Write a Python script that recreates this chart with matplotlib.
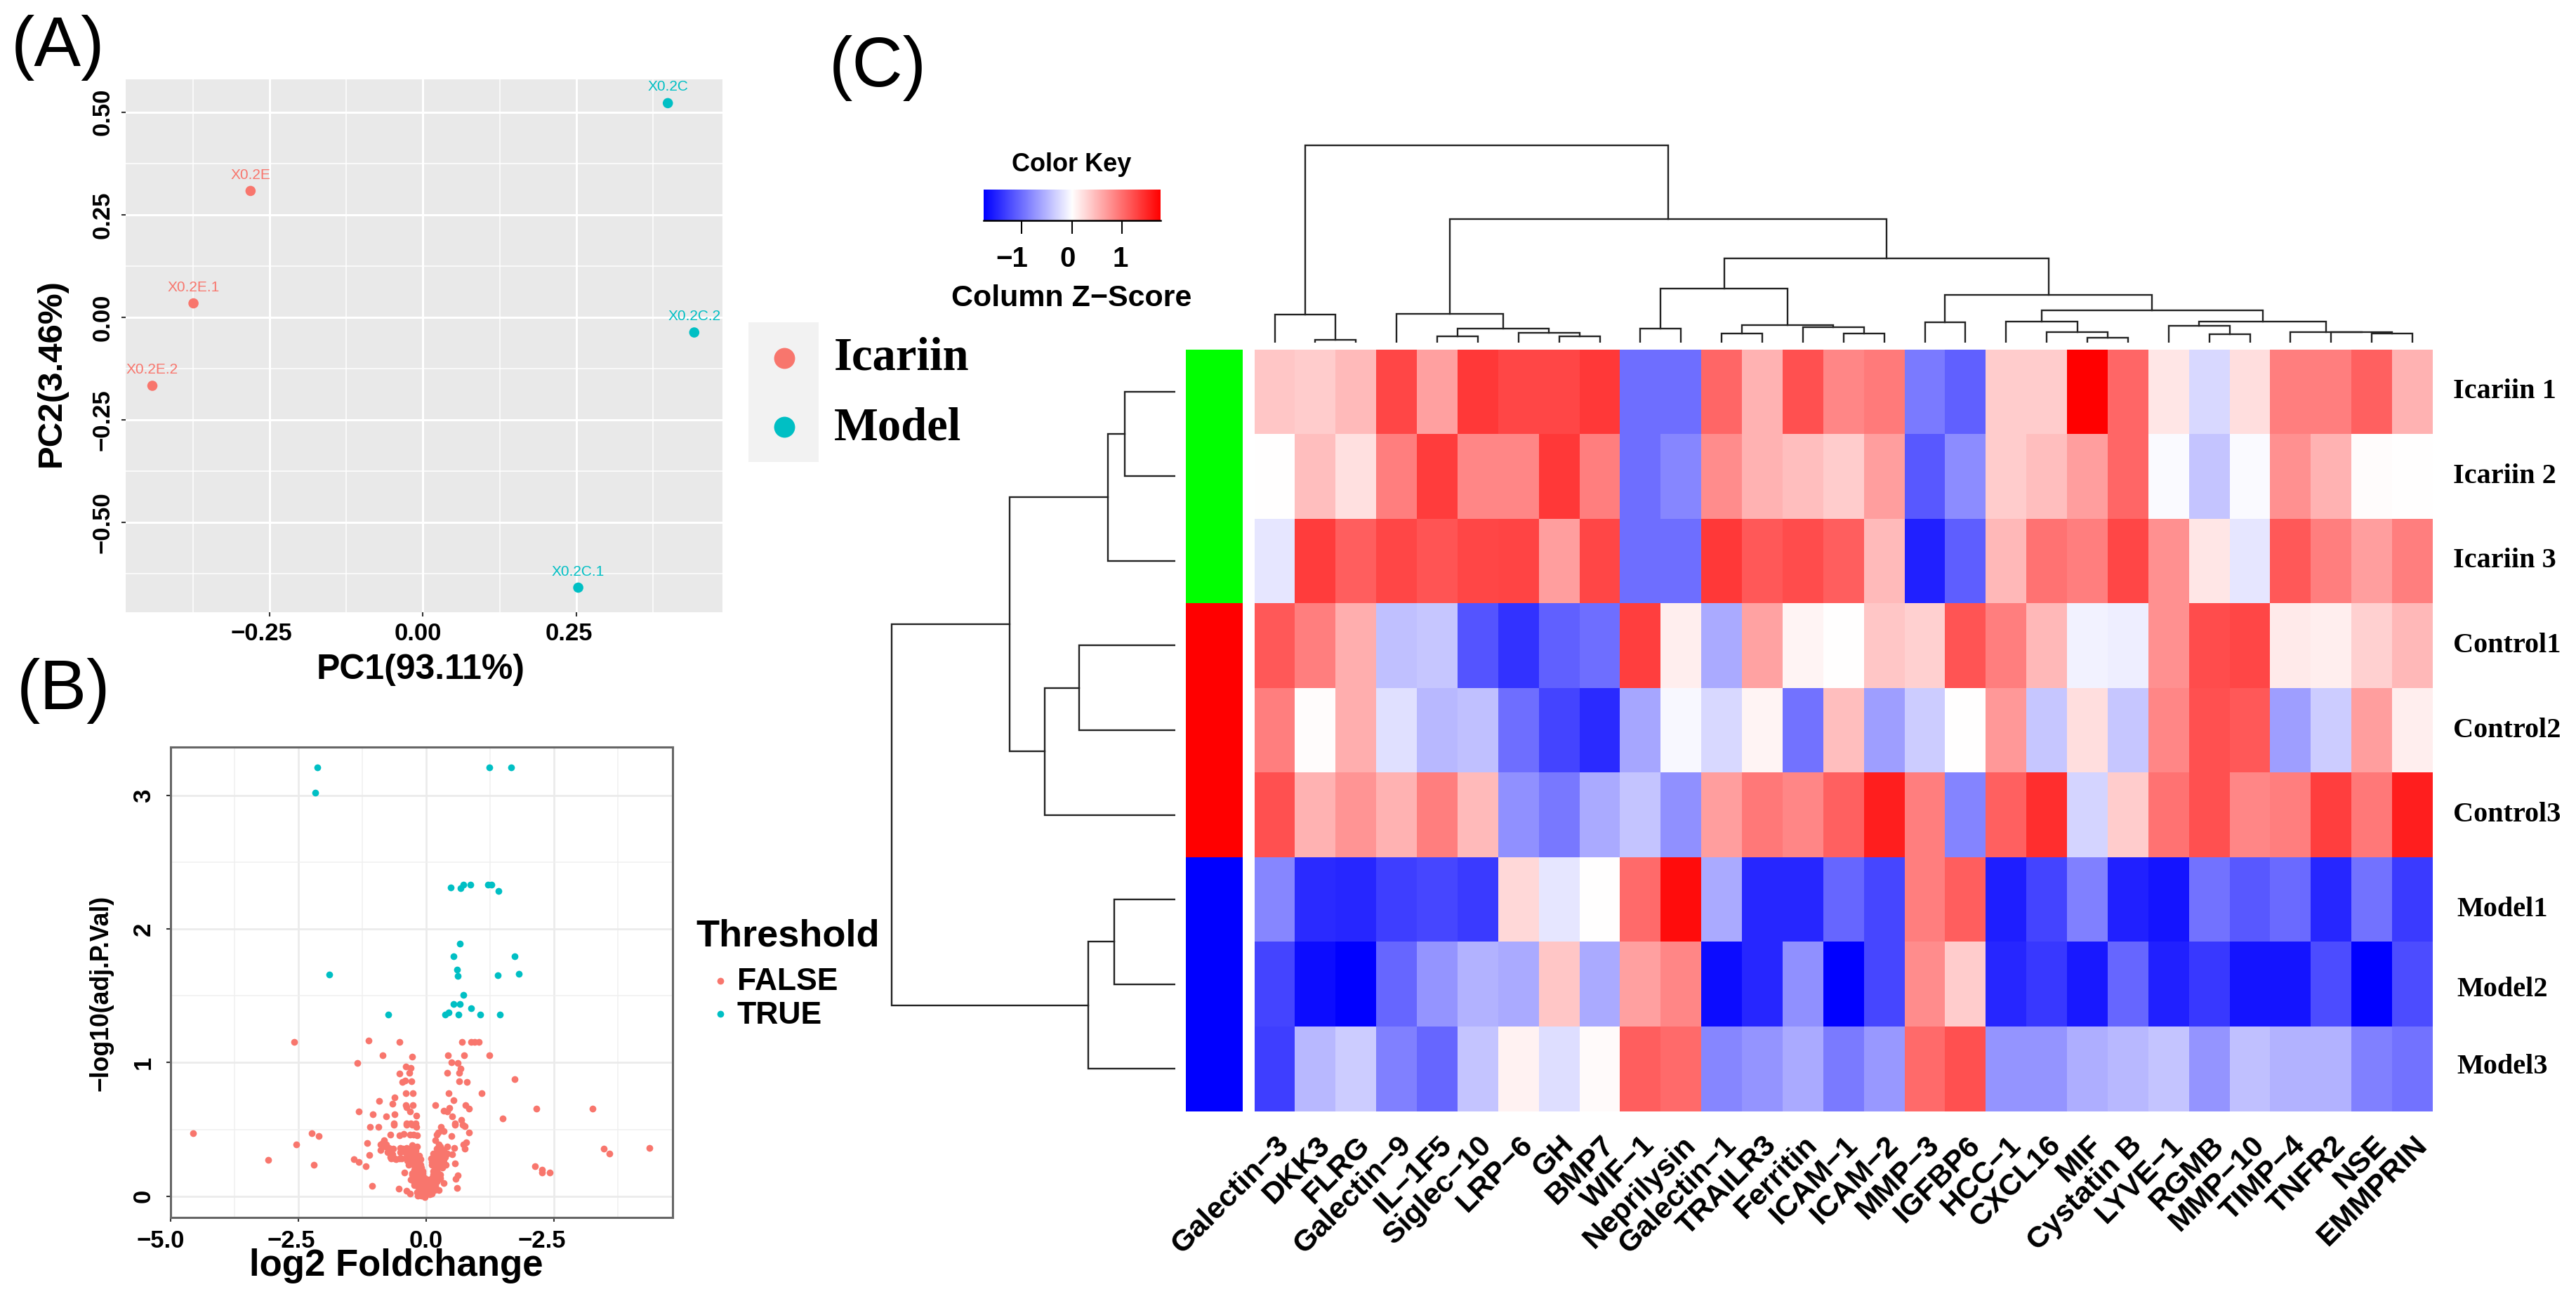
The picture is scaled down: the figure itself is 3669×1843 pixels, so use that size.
"""Three panel figure: PCA scatter, volcano plot and clustered heatmap."""
import matplotlib
matplotlib.use("Agg")
import matplotlib.pyplot as plt
from matplotlib.colors import LinearSegmentedColormap, ListedColormap
from matplotlib.patches import Rectangle
from matplotlib.transforms import ScaledTranslation
import numpy as np

WIDTH, HEIGHT, DPI = 3669, 1843, 100
SANS = "Liberation Sans"
SERIF = "Liberation Serif"
RED = "#F8766D"
TEAL = "#00BFC4"

# panel A
pca_names = ["X0.2E", "X0.2E.1", "X0.2E.2", "X0.2C", "X0.2C.2", "X0.2C.1"]
pca_pc1 = [-0.281, -0.374, -0.441, 0.399, 0.442, 0.253]
pca_pc2 = [0.308, 0.034, -0.167, 0.522, -0.037, -0.659]
pca_colors = [RED, RED, RED, TEAL, TEAL, TEAL]

# panel B
true_x = [-2.136, -2.177, 1.237, 1.659, 0.477, 0.674, 0.724, 0.862, 1.214, 1.274, 1.412, 0.66, 0.532, 1.732, 0.605,
          0.614, 1.407, 1.81, -1.893, 0.733, 0.532, 0.66, 0.875, -0.738, 0.376, 0.44, 0.632, 1.054, 1.444]
true_y = [3.212, 3.02, 3.212, 3.212, 2.31, 2.307, 2.333, 2.333, 2.333, 2.333, 2.284, 1.893, 1.798, 1.798, 1.696,
          1.649, 1.653, 1.663, 1.658, 1.509, 1.439, 1.439, 1.407, 1.36, 1.36, 1.377, 1.36, 1.36, 1.36]
false_x = [-2.587, -1.124, -0.516, 0.70, 0.873, 0.946, 1.028, -0.855, -0.27, 0.43, 0.745, 1.234, -1.348, 0.494, 0.617,
           -0.393, -0.302, 0.676, -0.334, -0.526, 0.411, 0.64, -0.416, -0.466, -0.293, 0.649, 0.8, 1.723, -0.393,
           -0.256, 0.439, 1.083, -0.622, -0.923, 0.53, -0.663, -0.393, -0.379, -0.256, 0.183, 0.763, 0.841, 0.452,
           0.343, 0.411, -0.311, -1.325, -1.051, -0.786, -0.622, -0.192, 0.503, 0.686, 1.495, -0.63, -0.388, -0.297,
           -0.206, 0.562, 0.708, -1.097, -0.928, -0.631, -0.388, -0.274, -0.192, 0.562, 0.754, 0.832, -0.708, -0.516,
           -0.434, -0.32, -0.251, -0.183, 0.283, 0.229, 0.343, 0.489, 0.206, 0.183, -1.156, -0.823, -0.891, -0.777,
           -0.891, -0.731, -0.64, -0.503, -0.388, -0.274, -0.183, 0.777, 0.731, 0.754, 0.274, 0.411, 0.548, -1.12,
           -1.417, -1.316, -1.179, 0.512, 0.558, 0.617, 0.58, -1.06, -0.53, -0.388, -0.311, 0.347, 0.603, 0.242,
           -0.425, -0.754, -0.708, -0.617, -0.526, -0.503, -0.411, -0.388, -0.297, -0.206, -0.137, -0.343, -0.229,
           -0.137, -0.091, -0.183, -0.137, -0.251, -0.183, -0.091, -0.069, 0.137, 0.206, 0.274, 0.343, 0.114, 0.229,
           0.343, 0.16, 0.297, 0.388, 0.137, 0.229, 0.16, 0.091, 0.274, -0.229, -0.114, 0.0, 0.114, 0.206, -0.137,
           -0.023, 0.091, 0.183, -0.16, -0.023, 0.069, -0.069, 0.023, -0.229, 0.023, -0.274, -4.558, -2.548, -2.24,
           -2.096, -3.087, -2.202, 2.154, 3.26, 2.125, 2.26, 2.26, 2.423, 3.471, 3.587, 4.365]
false_y = [1.155, 1.163, 1.153, 1.154, 1.154, 1.154, 1.154, 1.056, 1.042, 1.056, 1.056, 1.056, 0.996, 1.005, 0.996,
           0.972, 0.96, 0.956, 0.926, 0.916, 0.923, 0.926, 0.868, 0.853, 0.858, 0.858, 0.853, 0.877, 0.772,
           0.772, 0.772, 0.772, 0.742, 0.714, 0.716, 0.693, 0.684, 0.667, 0.684, 0.684, 0.684, 0.654, 0.658,
           0.64, 0.635, 0.632, 0.632, 0.614, 0.596, 0.614, 0.605, 0.596, 0.57, 0.582, 0.544, 0.544, 0.544,
           0.544, 0.544, 0.535, 0.516, 0.516, 0.533, 0.533, 0.533, 0.521, 0.533, 0.526, 0.474, 0.46, 0.456,
           0.468, 0.46, 0.46, 0.456, 0.516, 0.474, 0.486, 0.451, 0.46, 0.416, 0.395, 0.416, 0.389, 0.389,
           0.346, 0.363, 0.354, 0.363, 0.363, 0.381, 0.372, 0.404, 0.386, 0.358, 0.372, 0.372, 0.363, 0.31,
           0.279, 0.253, 0.226, 0.314, 0.246, 0.153, 0.13, 0.079, 0.053, 0.039, 0.021, 0.098, 0.06, 0.044,
           0.179, 0.328, 0.293, 0.284, 0.284, 0.328, 0.328, 0.293, 0.31, 0.31, 0.302, 0.232, 0.249,
           0.249, 0.214, 0.196, 0.17, 0.135, 0.109, 0.126, 0.17, 0.284, 0.319, 0.337, 0.319, 0.258, 0.275,
           0.275, 0.223, 0.232, 0.232, 0.188, 0.17, 0.144, 0.126, 0.135, 0.082, 0.082, 0.091, 0.091, 0.109, 0.039,
           0.039, 0.047, 0.074, 0.004, -0.01, 0.012, 0.021, 0.065, 0.126, 0.126, 0.17, 0.469, 0.385, 0.469,
           0.448, 0.273, 0.235, 0.655, 0.655, 0.224, 0.196, 0.175, 0.179, 0.357, 0.319, 0.361]
# the crowded V near the origin, overlapping points estimated
crowd_x = [-0.846, -0.8, -0.708, -0.663, -0.686, -0.594, -0.48, -0.457, -0.366, -0.32, -0.251, -0.183, -0.114, -0.274,
           -0.206, -0.366, -0.297, -0.251, -0.183, -0.114, -0.229, -0.137, -0.069, -0.274, -0.206, -0.137, -0.069,
           -0.023, -0.297, -0.16, -0.229, -0.137, -0.069, -0.183, -0.069, -0.023, 0.069, 0.137, 0.229, 0.114, 0.183,
           0.046, -0.091, 0.0, -0.183, 0.114, 0.16, -0.023, 0.137, 0.206, 0.251, 0.16, 0.229, 0.297, 0.366, 0.091,
           0.114, 0.206, 0.274, 0.343, 0.229, 0.32, 0.183, 0.137, 0.206, 0.274, 0.114, 0.343, 0.411]
crowd_y = [0.398, 0.372, 0.337, 0.311, 0.284, 0.275, 0.284, 0.354, 0.346, 0.328, 0.284, 0.284, 0.275, 0.354,
           0.337, 0.267, 0.267, 0.232, 0.232, 0.232, 0.196, 0.205, 0.188, 0.161, 0.153, 0.144, 0.153,
           0.135, 0.126, 0.126, 0.1, 0.1, 0.1, 0.074, 0.065, 0.082, 0.065, 0.074, 0.126, 0.135, 0.126,
           0.03, 0.004, 0.012, 0.03, 0.021, 0.047, 0.056, 0.319, 0.354, 0.389, 0.284, 0.302, 0.302, 0.293, 0.284,
           0.232, 0.249, 0.258, 0.249, 0.214, 0.214, 0.196, 0.161, 0.153, 0.161, 0.109, 0.346, 0.319]

# panel C
proteins = ["Galectin−3", "DKK3", "FLRG", "Galectin−9", "IL−1F5", "Siglec−10", "LRP−6", "GH", "BMP7", "WIF−1",
            "Neprilysin", "Galectin−1", "TRAILR3", "Ferritin", "ICAM−1", "ICAM−2", "MMP−3", "IGFBP6", "HCC−1",
            "CXCL16", "MIF", "Cystatin B", "LYVE−1", "RGMB", "MMP−10", "TIMP−4", "TNFR2", "NSE", "EMMPRIN"]
samples = ["Icariin 1", "Icariin 2", "Icariin 3", "Control1", "Control2", "Control3", "Model1", "Model2", "Model3"]
sample_groups = [0, 0, 0, 1, 1, 1, 2, 2, 2]
group_colors = ["#00FF00", "#FF0000", "#0000FF"]
key_limit = 1.76

icariin1 = [.22, .2, .27, .72, .37, .78, .72, .72, .78, -.57, -.57, .6, .3, .68, .47, .52, -.52, -.62, .2, .2, 1.0, .6,
            .1, -.15, .13, .5, .5, .62, .3]
icariin2 = [0, .25, .12, .5, .76, .47, .47, .78, .5, -.57, -.47, .45, .3, .25, .2, .38, -.65, -.45, .2, .25, .38, .6,
            -.02, -.23, -.02, .43, .3, .01, 0]
icariin3 = [-.1, .76, .63, .72, .67, .72, .73, .38, .72, -.57, -.57, .78, .65, .7, .63, .27, -.87, -.63, .28, .55, .5,
            .72, .43, .1, -.1, .65, .5, .38, .5]
control1 = [.65, .5, .32, -.25, -.22, -.67, -.8, -.62, -.57, .75, .07, -.33, .36, .04, 0, .22, .18, .67, .5, .28, -.05,
            -.07, .43, .7, .72, .08, .07, .18, .28]
control2 = [.5, .01, .32, -.12, -.28, -.25, -.57, -.73, -.83, -.35, -.03, -.15, .04, -.55, .25, -.38, -.2, 0, .4, -.22,
            .13, -.22, .47, .68, .65, -.38, -.2, .38, .07]
control3 = [.68, .3, .42, .3, .5, .27, -.43, -.53, -.33, -.23, -.43, .38, .53, .47, .62, .88, .5, -.48, .62, .82, -.17,
            .2, .55, .68, .47, .5, .75, .53, .88]
model1 = [-.47, -.83, -.85, -.75, -.72, -.77, .15, -.1, 0, .58, .95, -.33, -.85, -.85, -.6, -.72, .5, .63, -.88, -.73,
          -.5, -.87, -.92, -.55, -.65, -.58, -.85, -.55, -.77]
model2 = [-.73, -.95, -1, -.6, -.42, -.3, -.33, .22, -.33, .37, .47, -.95, -.85, -.43, -1, -.72, .45, .2, -.85, -.78,
          -.9, -.6, -.87, -.78, -.92, -.92, -.7, -1, -.7]
model3 = [-.75, -.28, -.2, -.5, -.6, -.23, .05, -.13, .02, .63, .58, -.47, -.42, -.33, -.52, -.4, .58, .68, -.42, -.42,
          -.32, -.28, -.23, -.42, -.25, -.3, -.3, -.5, -.55]
z_scores = np.array([icariin1, icariin2, icariin3, control1, control2, control3, model1, model2, model3]) * key_limit

# dendrograms: (left, right, height), leaves are 1-based positions
col_tree = (
    (1, (2, 3, 4), 40),
    ((4, ((5, 6, 9), (7, (8, 9, 9), 14), 20), 41),
     (((10, 11, 20), ((12, 13, 13.5), (14, (15, 16, 13.5), 22), 25), 77),
      ((17, 18, 29),
       ((19, (20, (21, 22, 7), 15), 30),
        ((23, (24, 25, 12), 24), (26, (27, (28, 29, 13), 15), 15.5), 30), 46), 68), 120), 176),
    281)
row_tree = (
    (((1, 2, 72), 3, 96), ((4, 5, 137), 6, 186), 236.5),
    ((7, 8, 87), 9, 124),
    404)


def px_axes(fig, left, top, right, bottom):
    return fig.add_axes([left / WIDTH, 1 - bottom / HEIGHT, (right - left) / WIDTH, (bottom - top) / HEIGHT])


def shift_labels(fig, labels, offsets):
    for label, dx in zip(labels, offsets):
        label.set_transform(label.get_transform() + ScaledTranslation(dx / DPI, 0, fig.dpi_scale_trans))


def style_ticks(ax, pad_x, pad_y):
    ax.tick_params(axis="x", length=4, width=1.5, color="#333333", pad=pad_x)
    ax.tick_params(axis="y", length=4, width=1.5, color="#333333", pad=pad_y)
    for label in ax.get_xticklabels() + ax.get_yticklabels():
        label.set_fontfamily(SANS)
        label.set_fontweight("bold")
        label.set_fontsize(25)
    for label in ax.get_yticklabels():
        label.set_rotation(90)
        label.set_verticalalignment("center")


def draw_tree(ax, node, horizontal):
    """Draw a merge tree and return the position and height of its top."""
    if not isinstance(node, tuple):
        return node - 0.5, 0
    pos_a, h_a = draw_tree(ax, node[0], horizontal)
    pos_b, h_b = draw_tree(ax, node[1], horizontal)
    h = node[2]
    pos = [pos_a, pos_a, pos_b, pos_b]
    heights = [h_a, h, h, h_b]
    if horizontal:
        ax.plot(heights, pos, color="#222222", lw=1.7, solid_joinstyle="miter")
    else:
        ax.plot(pos, heights, color="#222222", lw=1.7, solid_joinstyle="miter")
    return (pos_a + pos_b) / 2, h


fig = plt.figure(figsize=(WIDTH / DPI, HEIGHT / DPI), dpi=DPI, facecolor="white")

# (A) PCA
ax_a = px_axes(fig, 179, 113, 1029, 872)
ax_a.set_facecolor("#E9E9E9")
ax_a.set_xlim(-0.4845, 0.488)
ax_a.set_ylim(-0.719, 0.58)
ax_a.set_xticks([-0.25, 0, 0.25], ["−0.25", "0.00", "0.25"])
ax_a.set_yticks([-0.5, -0.25, 0, 0.25, 0.5], ["−0.50", "−0.25", "0.00", "0.25", "0.50"])
ax_a.set_xticks([-0.375, -0.125, 0.125, 0.375], minor=True)
ax_a.set_yticks([-0.625, -0.375, -0.125, 0.125, 0.375], minor=True)
ax_a.grid(which="major", color="white", lw=2.2)
ax_a.grid(which="minor", color="white", lw=1.1)
ax_a.tick_params(which="minor", length=0)
ax_a.set_axisbelow(True)
for spine in ax_a.spines.values():
    spine.set_visible(False)
style_ticks(ax_a, 6, 8)
shift_labels(fig, ax_a.get_xticklabels(), [-12, -7, -11])
ax_a.scatter(pca_pc1, pca_pc2, s=110, c=pca_colors, linewidths=0, zorder=3)
for name, x, y, color in zip(pca_names, pca_pc1, pca_pc2, pca_colors):
    ax_a.annotate(name, (x, y), xytext=(0, 16.5), textcoords="offset points", ha="center", va="center",
                  color=color, fontsize=15, family=SANS, annotation_clip=False)

# (B) volcano
ax_b = px_axes(fig, 243, 1063.5, 958, 1733.5)
ax_b.set_xlim(-4.99, 4.82)
ax_b.set_ylim(-0.1575, 3.367)
ax_b.set_xticks([-5, -2.5, 0, 2.5], ["−5.0", "−2.5", "0.0", "−2.5"])
ax_b.set_yticks([0, 1, 2, 3], ["0", "1", "2", "3"])
ax_b.set_xticks([-3.75, -1.25, 1.25, 3.75], minor=True)
ax_b.set_yticks([0.5, 1.5, 2.5], minor=True)
ax_b.grid(which="major", color="#EBEBEB", lw=2.0)
ax_b.grid(which="minor", color="#F0F0F0", lw=1.1)
ax_b.tick_params(which="minor", length=0)
ax_b.set_axisbelow(True)
for spine in ax_b.spines.values():
    spine.set_color("#666666")
    spine.set_linewidth(2.2)
style_ticks(ax_b, 8.6, 12)
shift_labels(fig, ax_b.get_xticklabels(), [-14, -10, 0, -17])
ax_b.plot(false_x + crowd_x, false_y + crowd_y, "o", ms=7, mec="none", color=RED, clip_on=False)
ax_b.plot(true_x, true_y, "o", ms=7, mec="none", color=TEAL, clip_on=False)

# (C) heatmap
rwb = LinearSegmentedColormap.from_list("rwb", ["#0000FF", "#FFFFFF", "#FF0000"])
ax_heat = px_axes(fig, 1786.6, 497.5, 3465, 1582.5)
ax_heat.pcolormesh(np.arange(len(proteins) + 1), np.arange(len(samples) + 1), z_scores, cmap=rwb,
                   vmin=-key_limit, vmax=key_limit)
ax_heat.set_ylim(len(samples), 0)
ax_heat.axis("off")

ax_side = px_axes(fig, 1689, 497.5, 1770, 1582.5)
ax_side.pcolormesh(np.array(sample_groups)[:, None], cmap=ListedColormap(group_colors), vmin=0, vmax=2)
ax_side.set_ylim(len(samples), 0)
ax_side.axis("off")

ax_top = px_axes(fig, 1786.6, 190, 3465, 488)
ax_top.set_xlim(0, len(proteins))
ax_top.set_ylim(0, 298)
draw_tree(ax_top, col_tree, False)
ax_top.axis("off")

ax_left = px_axes(fig, 1250, 497.5, 1674, 1582.5)
ax_left.set_xlim(424, 0)
ax_left.set_ylim(len(samples), 0)
draw_tree(ax_left, row_tree, True)
ax_left.axis("off")

ax_key = px_axes(fig, 1401, 270, 1652.7, 314)
ax_key.imshow(np.linspace(-key_limit, key_limit, 256)[None, :], cmap=rwb, aspect="auto",
              extent=(-key_limit, key_limit, 0, 1))
ax_key.set_yticks([])
ax_key.set_xticks([-1, 0, 1], ["−1", "0", "1"], fontsize=29, fontweight="bold", family=SANS)
ax_key.tick_params(axis="x", length=14, width=1.5, pad=12)
for side in ["top", "left", "right"]:
    ax_key.spines[side].set_visible(False)
ax_key.spines["bottom"].set_linewidth(1.8)
shift_labels(fig, ax_key.get_xticklabels(), [-14, -6, -3])

# everything placed by hand goes on a pixel overlay
over = fig.add_axes([0, 0, 1, 1])
over.set_xlim(0, WIDTH)
over.set_ylim(HEIGHT, 0)
over.axis("off")
over.patch.set_alpha(0)

for text, x, y in [("(A)", 16, 94), ("(B)", 24, 1010), ("(C)", 1181, 123)]:
    over.text(x, y, text, fontsize=72, family=SANS, ha="left", va="baseline")

bold = {"family": SANS, "fontweight": "bold", "ha": "center", "va": "center"}
over.text(73, 531, "PC2(3.46%)", fontsize=35.5, rotation=90, **bold)
over.text(599, 954, "PC1(93.11%)", fontsize=36, **bold)
over.text(144, 1414, "−log10(adj.P.Val)", fontsize=25.7, rotation=90, **bold)
over.text(564, 1803, "log2 Foldchange", fontsize=38, **bold)

# legend of A
over.add_patch(Rectangle((1066, 459), 100, 199, facecolor="#F2F2F2", edgecolor="none"))
over.plot([1117], [510], "o", ms=21.5, mec="none", color=RED)
over.plot([1117], [608], "o", ms=21.5, mec="none", color=TEAL)
over.text(1188, 510, "Icariin", fontsize=48, family=SERIF, fontweight="bold", ha="left", va="center")
over.text(1188, 610, "Model", fontsize=48, family=SERIF, fontweight="bold", ha="left", va="center")

# legend of B
over.text(991, 1334, "Threshold", fontsize=39, family=SANS, fontweight="bold", ha="left", va="center")
over.plot([1026], [1397], "o", ms=7, mec="none", color=RED)
over.plot([1026], [1444], "o", ms=7, mec="none", color=TEAL)
over.text(1050, 1398, "FALSE", fontsize=32, family=SANS, fontweight="bold", ha="left", va="center")
over.text(1050, 1447, "TRUE", fontsize=32, family=SANS, fontweight="bold", ha="left", va="center")

# key captions
over.text(1526, 235, "Color Key", fontsize=26, **bold)
over.text(1526, 425, "Column Z−Score", fontsize=31, **bold)

# heatmap labels
label_shift = [0, 0, 0, 0, 0, 0, 14, 8, -3]
row_height = (1582.5 - 497.5) / len(samples)
col_width = (3465 - 1786.6) / len(proteins)
for i, name in enumerate(samples):
    x = 3499 if name.startswith("Model") else 3494
    over.text(x, 497.5 + (i + 0.5) * row_height + label_shift[i], name, fontsize=29, family=SERIF,
              fontweight="bold", ha="left", va="center")
for j, name in enumerate(proteins):
    over.text(1786.6 + (j + 0.5) * col_width, 1611, name, fontsize=31, family=SANS, fontweight="bold",
              rotation=45, ha="right", va="top", rotation_mode="anchor")

fig.savefig("out.png", dpi=DPI)
plt.close(fig)
